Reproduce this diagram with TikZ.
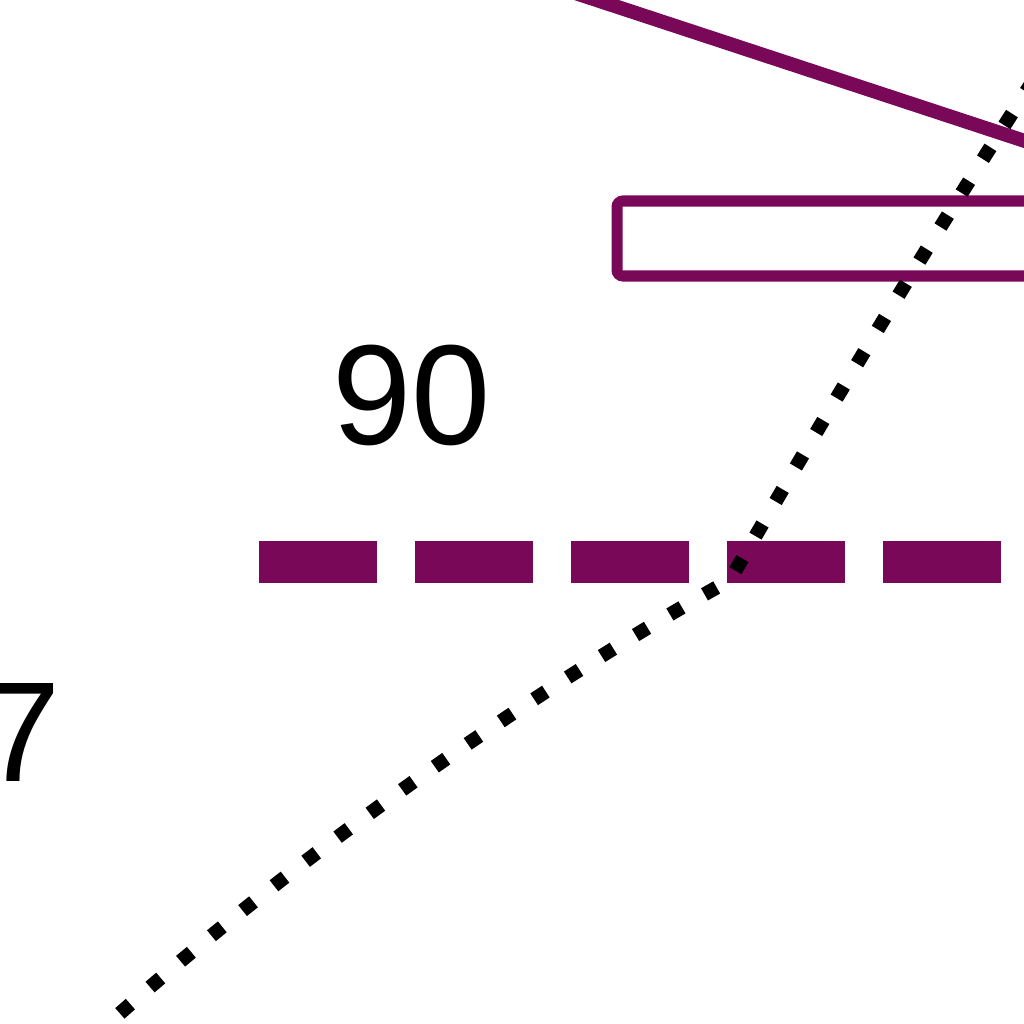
\documentclass[tikz,border=0pt]{standalone}
\usepackage{fontspec}
\setmainfont{Liberation Sans}
\usepackage{tikz}
\usetikzlibrary{arrows}
\definecolor{cpurple}{rgb}{0.48, 0.03, 0.35}

\begin{document}
\begin{tikzpicture}[x=0.01cm,y=-0.01cm,
  band line/.style={draw=cpurple,line width=0.14cm},
  box line/.style={draw=cpurple,line width=0.11cm,rounded corners=0.06cm},
  gap line/.style={draw=cpurple,line width=0.41cm,dash pattern=on 1.18cm off 0.38cm},
  dot line/.style={draw=black,line width=0.14cm,dash pattern=on 0.14cm off 0.26cm},
  label node/.style={inner sep=0pt,font=\fontsize{40.5}{48}\selectfont}]
  \useasboundingbox (0,0) rectangle (1024,1024);
  \clip (0,0) rectangle (1024,1024);
  \coordinate (b1) at (560,-12);
  \coordinate (b2) at (1040,146);
  \coordinate (r1) at (617,201);
  \coordinate (r2) at (1070,276);
  \coordinate (g1) at (259,562);
  \coordinate (g2) at (1003,562);
  \coordinate (d1) at (90,1040);
  \coordinate (d2) at (730,580);
  \coordinate (d3) at (1040,70);
  \node[label node] (ninety) at (412,395) {90};
  \node[label node] (seven) at (21,732) {7};

  \draw[band line] (b1) -- (b2);
  \draw[box line] (r1) rectangle (r2);
  \draw[gap line] (g1) -- (g2);
  \draw[dot line] (d1) .. controls (300,850) and (550,680) .. (d2)
    .. controls (840,390) and (930,240) .. (d3);
\end{tikzpicture}
\end{document}
